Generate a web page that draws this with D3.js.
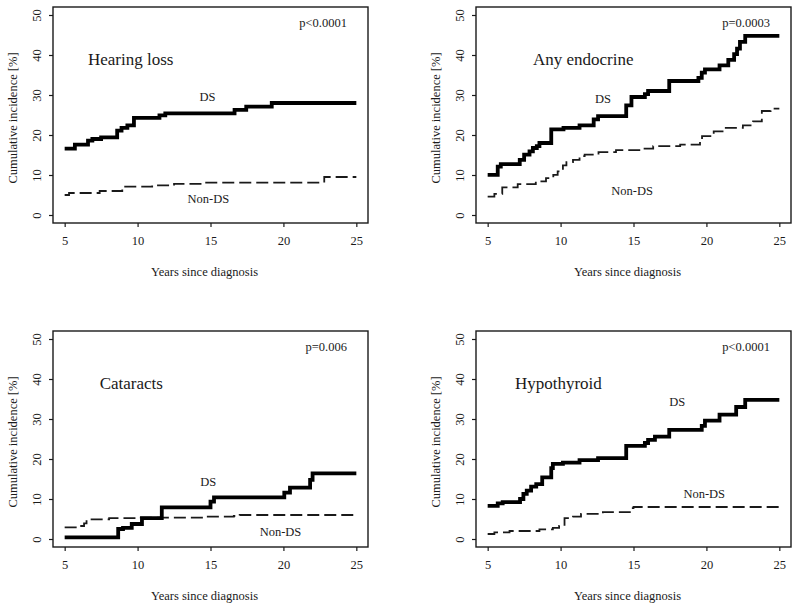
<!DOCTYPE html>
<html>
<head>
<meta charset="utf-8">
<script src="https://cdn.jsdelivr.net/npm/d3@7"></script>
<style>
  html, body { margin: 0; padding: 0; background: #fff; }
  svg { display: block; font-family: "Liberation Serif", "Times New Roman", serif; }
</style>
</head>
<body>
<svg id="chart" width="800" height="610"></svg>
<script>
// ---- Data ----
const panelTitles = ["Hearing loss", "Any endocrine", "Cataracts", "Hypothyroid"];
const pValues = ["p<0.0001", "p=0.0003", "p=0.006", "p<0.0001"];
const xTicks = [5, 10, 15, 20, 25];
const yTicks = [0, 10, 20, 30, 40, 50];

// Hearing loss
const hearingDS_t = [5, 5.7, 6.6, 6.9, 7.5, 8.6, 8.9, 9.3, 9.75, 11.5, 11.9, 16.65, 17.45, 19.2, 25];
const hearingDS_v = [16.6, 17.6, 18.6, 19.0, 19.4, 21.1, 21.8, 22.4, 24.3, 24.9, 25.4, 26.3, 27.1, 28.0, 28.0];
const hearingNon_t = [5, 5.3, 7.4, 8.95, 11.0, 12.5, 14.6, 22.8, 25];
const hearingNon_v = [5.0, 5.5, 6.0, 7.1, 7.4, 7.8, 8.1, 9.5, 9.5];

// Any endocrine
const endoDS_t = [5, 5.69, 5.9, 7.2, 7.5, 7.87, 8.1, 8.37, 8.55, 9.36, 10.2, 11.3, 12.27, 12.57, 14.5, 14.86, 15.78, 16.0, 17.45, 19.45, 19.68, 19.9, 20.9, 21.5, 21.9, 22.1, 22.3, 22.66, 25];
const endoDS_v = [10.05, 12.1, 12.7, 13.8, 15.1, 15.9, 16.75, 17.2, 18.0, 21.4, 21.8, 22.4, 23.9, 24.7, 27.4, 29.5, 30.2, 31.0, 33.5, 34.3, 35.6, 36.4, 37.4, 38.8, 40.2, 41.6, 43.3, 44.8, 44.8];
const endoNon_t = [5, 5.46, 6.0, 7.06, 8.3, 9.0, 9.5, 9.8, 10.16, 10.4, 10.85, 11.3, 11.65, 12.6, 13.8, 15.4, 16.35, 18.2, 19.56, 19.7, 20.5, 21.2, 22.5, 23.2, 23.8, 24.4, 25];
const endoNon_v = [4.6, 5.3, 6.9, 7.7, 8.4, 9.2, 10.05, 10.9, 12.4, 13.2, 13.8, 14.7, 15.1, 15.7, 16.2, 16.6, 17.2, 17.6, 18.8, 19.7, 20.9, 21.8, 22.4, 23.4, 26.0, 26.6, 26.6];

// Cataracts
const catDS_t = [5, 8.67, 9.0, 9.6, 10.3, 11.66, 15.0, 15.24, 20.06, 20.45, 21.83, 22.0, 25];
const catDS_v = [0.4, 2.5, 2.8, 3.75, 5.2, 7.9, 9.35, 10.4, 11.6, 12.85, 14.8, 16.4, 16.4];
const catNon_t = [5, 6.0, 6.33, 6.5, 8.05, 10.1, 14.5, 16.6, 17.0, 25];
const catNon_v = [2.9, 3.25, 3.9, 4.9, 5.2, 5.35, 5.6, 5.75, 6.0, 6.0];

// Hypothyroid
const hypoDS_t = [5, 5.69, 6.03, 7.22, 7.45, 7.68, 7.98, 8.33, 8.74, 9.36, 9.47, 10.16, 11.3, 12.57, 14.5, 15.78, 16.0, 16.47, 17.45, 19.68, 19.9, 20.9, 22.04, 22.66, 25];
const hypoDS_v = [8.26, 8.9, 9.2, 10.0, 11.3, 12.1, 13.1, 13.7, 15.4, 17.7, 18.8, 19.1, 19.7, 20.2, 23.3, 24.0, 24.8, 25.6, 27.3, 28.3, 29.6, 31.1, 33.0, 34.8, 34.8];
const hypoNon_t = [5, 5.46, 6.5, 8.55, 9.47, 9.9, 10.27, 10.85, 11.4, 12.9, 14.75, 15.0, 25];
const hypoNon_v = [1.25, 1.67, 2.0, 2.4, 2.8, 3.25, 5.2, 5.6, 6.26, 6.7, 7.7, 8.0, 8.0];

// ---- Layout ----
const panels = [
  { x0: 53,  y0: 7,   ds: [hearingDS_t, hearingDS_v], non: [hearingNon_t, hearingNon_v],
    title: [6.6, 38.9], dsLab: [14.8, 29.4], nonLab: [14.85, 4.0] },
  { x0: 476, y0: 7,   ds: [endoDS_t, endoDS_v], non: [endoNon_t, endoNon_v],
    title: [8.1, 38.9], dsLab: [12.9, 29.1], nonLab: [14.9, 6.0] },
  { x0: 53,  y0: 331, ds: [catDS_t, catDS_v], non: [catNon_t, catNon_v],
    title: [7.4, 39.0], dsLab: [14.85, 14.25], nonLab: [19.8, 1.75] },
  { x0: 476, y0: 331, ds: [hypoDS_t, hypoDS_v], non: [hypoNon_t, hypoNon_v],
    title: [6.87, 39.0], dsLab: [18.0, 34.25], nonLab: [19.85, 11.25] }
];
const W = 315, H = 216;
const ink = "#1a1a1a";

const svg = d3.select("#chart");

panels.forEach((p, i) => {
  const g = svg.append("g").attr("transform", `translate(${p.x0},${p.y0})`);
  const x = d3.scaleLinear().domain([4.2, 25.8]).range([0, W]);
  const y = d3.scaleLinear().domain([-2, 52]).range([H, 0]);

  // axes
  const xAxis = d3.axisBottom(x).tickValues(xTicks).tickSize(4).tickPadding(9).tickFormat(d3.format("d"));
  const gx = g.append("g").attr("transform", `translate(0,${H})`).call(xAxis);
  gx.select(".domain").remove();
  gx.selectAll("line").attr("stroke", ink).attr("stroke-width", 1.2);
  gx.selectAll("text").attr("font-size", 12.5).attr("fill", ink)
    .attr("font-family", '"Liberation Serif", serif');

  const yAxis = d3.axisLeft(y).tickValues(yTicks).tickSize(4).tickFormat(d3.format("d"));
  const gy = g.append("g").call(yAxis);
  gy.select(".domain").remove();
  gy.selectAll("line").attr("stroke", ink).attr("stroke-width", 1.2);
  gy.selectAll("text")
    .attr("font-size", 12.5).attr("fill", ink)
    .attr("font-family", '"Liberation Serif", serif')
    .attr("text-anchor", "middle")
    .attr("x", null).attr("dy", null)
    .attr("transform", "translate(-16,0) rotate(-90)")
    .attr("dominant-baseline", "central");

  // box
  g.append("rect").attr("x", 0).attr("y", 0).attr("width", W).attr("height", H)
    .attr("fill", "none").attr("stroke", ink).attr("stroke-width", 1.4);

  // axis titles
  g.append("text").attr("x", W / 2 - 6).attr("y", H + 53)
    .attr("text-anchor", "middle").attr("font-size", 12.5).attr("fill", ink)
    .text("Years since diagnosis");
  g.append("text")
    .attr("transform", `translate(-36,${H / 2 + 3}) rotate(-90)`)
    .attr("text-anchor", "middle").attr("font-size", 12.5).attr("fill", ink)
    .text("Cumulative incidence [%]");

  // step lines
  const line = d3.line().x(d => x(d[0])).y(d => y(d[1])).curve(d3.curveStepAfter);
  const nonPts = p.non[0].map((t, k) => [t, p.non[1][k]]);
  const dsPts = p.ds[0].map((t, k) => [t, p.ds[1][k]]);
  g.append("path").attr("d", line(nonPts)).attr("fill", "none")
    .attr("stroke", ink).attr("stroke-width", 1.8).attr("stroke-dasharray", "12,5");
  g.append("path").attr("d", line(dsPts)).attr("fill", "none")
    .attr("stroke", "#000").attr("stroke-width", 3.8).attr("stroke-linejoin", "miter");

  // labels
  g.append("text").attr("x", x(p.title[0])).attr("y", y(p.title[1]))
    .attr("dominant-baseline", "central").attr("font-size", 17).attr("fill", ink)
    .text(panelTitles[i]);
  g.append("text").attr("x", x(24.36)).attr("y", y(48.1))
    .attr("dominant-baseline", "central").attr("text-anchor", "end")
    .attr("font-size", 12.5).attr("fill", ink).text(pValues[i]);
  g.append("text").attr("x", x(p.dsLab[0])).attr("y", y(p.dsLab[1]))
    .attr("dominant-baseline", "central").attr("text-anchor", "middle")
    .attr("font-size", 12.5).attr("fill", ink).text("DS");
  g.append("text").attr("x", x(p.nonLab[0])).attr("y", y(p.nonLab[1]))
    .attr("dominant-baseline", "central").attr("text-anchor", "middle")
    .attr("font-size", 12.5).attr("fill", ink).text("Non-DS");
});
</script>
</body>
</html>
